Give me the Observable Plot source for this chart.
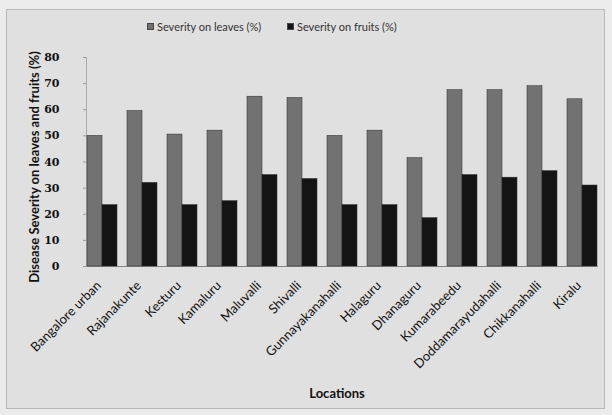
<!DOCTYPE html>
<html>
<head>
<meta charset="utf-8">
<script src="https://cdn.jsdelivr.net/npm/d3@7"></script>
<script src="https://cdn.jsdelivr.net/npm/@observablehq/plot@0.6"></script>
<style>
  html, body { margin: 0; padding: 0; background: #ebebeb; }
  #wrap { position: relative; width: 612px; height: 415px; overflow: hidden; }
  #frame { position: absolute; left: 6px; top: 9px; width: 599px; height: 400px;
           border: 1px solid #b8b8b8; background: #e0e0e0; box-sizing: border-box; }
  #legend { position: absolute; top: 20px; left: 0; width: 612px;
            font-family: Lato, "Open Sans", sans-serif; font-size: 11px; color: #333; }
  .item { position: absolute; display: flex; align-items: center; white-space: nowrap; }
  .sw { width: 7px; height: 7px; margin-right: 3px; border: 1px solid #444; box-sizing: border-box; }
  #chart { position: absolute; left: 0; top: 0; }
</style>
</head>
<body>
<div id="wrap">
  <div id="frame"></div>
  <div id="chart"></div>
  <div id="legend"></div>
</div>
<script>
const locations = ["Bangalore urban", "Rajanakunte", "Kesturu", "Kamaluru", "Maluvalli", "Shivalli",
  "Gunnayakanahalli", "Halaguru", "Dhanaguru", "Kumarabeedu", "Doddamarayudahalli", "Chikkanahalli", "Kiralu"];
const leaves = [50, 59.5, 50.5, 52, 65, 64.5, 50, 52, 41.5, 67.5, 67.5, 69, 64];
const fruits = [23.5, 32, 23.5, 25, 35, 33.5, 23.5, 23.5, 18.5, 35, 34, 36.5, 31];
const seriesNames = ["Severity on leaves (%)", "Severity on fruits (%)"];
const seriesColors = ["#727272", "#141414"];
const yTicks = [0, 10, 20, 30, 40, 50, 60, 70, 80];

const data = [];
locations.forEach((loc, i) => {
  data.push({location: loc, series: seriesNames[0], value: leaves[i]});
  data.push({location: loc, series: seriesNames[1], value: fruits[i]});
});

const font = "Lato, 'Open Sans', sans-serif";

const chart = Plot.plot({
  width: 612,
  height: 415,
  marginLeft: 81,
  marginRight: 10,
  marginTop: 57,
  marginBottom: 149,
  style: {background: "transparent", fontFamily: font, fontSize: "10px", color: "#111"},
  fx: {domain: locations, paddingInner: 0.23, paddingOuter: 0.11, label: null},
  x: {domain: seriesNames, padding: 0, axis: null},
  y: {domain: [0, 80], label: null},
  color: {domain: seriesNames, range: seriesColors},
  marks: [
    Plot.frame({anchor: "bottom", stroke: "#888", facet: "super"}),
    Plot.frame({anchor: "left", stroke: "#aaa", facet: "super"}),
    Plot.barY(data, {fx: "location", x: "series", y: "value", fill: "series", stroke: "#2a2a2a", strokeWidth: 0.5}),
    Plot.axisY(yTicks, {tickSize: 3, tickPadding: 24, fontWeight: "bold", fontSize: 11,
      fontFamily: "'DejaVu Serif', serif", stroke: "#999", fill: "#111", label: null}),
    Plot.axisFx({anchor: "bottom", tickRotate: -45, tickSize: 0, tickPadding: 17, dx: -3, fontSize: 13, fill: "#111", label: null}),
    Plot.text(["Locations"], {frameAnchor: "bottom", dx: -5, dy: 131, fontWeight: "bold", fontSize: 13, facet: "super"}),
    Plot.text(["Disease Severity on leaves and fruits (%)"], {frameAnchor: "left", textAnchor: "middle", dx: -52, dy: 5, rotate: -90,
      fontWeight: "bold", fontSize: 13, facet: "super"})
  ]
});
document.getElementById("chart").appendChild(chart);

const legend = document.getElementById("legend");
const lx = [147, 287];
seriesNames.forEach((s, i) => {
  const it = document.createElement("div");
  it.className = "item";
  it.style.left = lx[i] + "px";
  const sw = document.createElement("span");
  sw.className = "sw";
  sw.style.background = seriesColors[i];
  const t = document.createElement("span");
  t.textContent = s;
  it.appendChild(sw); it.appendChild(t);
  legend.appendChild(it);
});
</script>
</body>
</html>
